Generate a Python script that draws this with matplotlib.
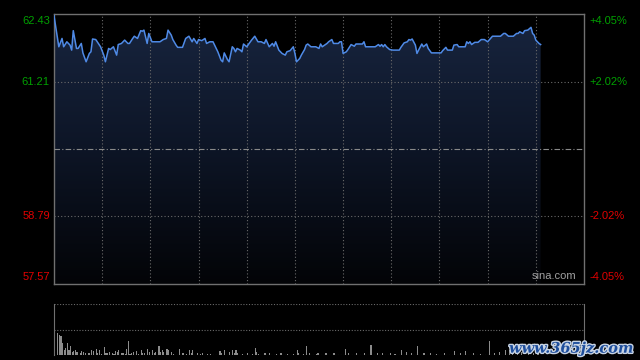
import numpy as np
import matplotlib.pyplot as plt
import matplotlib.patheffects as pe
from matplotlib.colors import LinearSegmentedColormap
from matplotlib.patches import Polygon

plt.rcParams['font.family'] = ['Liberation Sans', 'DejaVu Sans']

# intraday prices (minute of session, price)
price_minutes = [0, 3, 5, 6, 8, 10, 11, 12, 14, 15, 17, 18, 20, 22, 23, 24, 26, 29, 31, 32,
                 34, 35, 37, 39, 40, 42, 44, 46, 47, 49, 50, 52, 54, 55, 56, 58, 59, 61, 66, 68,
                 70, 71, 73, 74, 76, 77, 80, 82, 84, 86, 87, 89, 90, 92, 94, 95, 97, 99, 100, 102,
                 104, 105, 106, 108, 109, 111, 112, 113, 114, 116, 117, 118, 120, 121, 123, 125, 127, 129, 131, 132,
                 134, 136, 137, 138, 140, 142, 144, 145, 147, 149, 150, 151, 153, 154, 156, 157, 158, 160, 163, 165,
                 166, 167, 169, 170, 171, 173, 174, 177, 178, 179, 180, 182, 183, 185, 187, 188, 192, 193, 194, 197,
                 200, 202, 203, 204, 205, 206, 207, 209, 211, 215, 216, 218, 220, 221, 222, 223, 225, 226, 227, 229,
                 230, 232, 233, 235, 241, 242, 244, 245, 248, 249, 251, 252, 256, 257, 258, 259, 260, 262, 264, 266,
                 268, 270, 273, 278, 280, 281, 283, 286, 288, 289, 290, 292, 293, 295, 297, 298, 299, 300, 301, 302,
                 303]
price_values = [62.40, 61.84, 61.99, 61.84, 61.93, 61.87, 61.78, 62.13, 61.81, 61.81, 61.90, 61.73, 61.57, 61.72, 61.75, 61.98, 61.97, 61.84, 61.69, 61.57,
                61.81, 61.79, 61.84, 61.69, 61.88, 61.90, 61.96, 61.90, 61.90, 61.99, 62.03, 61.99, 62.13, 62.12, 62.14, 61.90, 62.08, 61.93, 61.93, 61.97,
                61.99, 62.14, 62.05, 61.97, 61.87, 61.83, 61.83, 61.99, 62.03, 61.93, 61.99, 61.90, 61.97, 61.95, 61.99, 61.90, 61.93, 61.93, 61.87, 61.75,
                61.60, 61.57, 61.73, 61.61, 61.57, 61.84, 61.81, 61.75, 61.81, 61.78, 61.75, 61.89, 61.84, 61.88, 61.96, 62.03, 61.93, 61.93, 61.90, 61.97,
                61.84, 61.90, 61.85, 61.93, 61.78, 61.72, 61.69, 61.75, 61.77, 61.84, 61.72, 61.57, 61.63, 61.69, 61.79, 61.87, 61.89, 61.84, 61.84, 61.81,
                61.89, 61.84, 61.88, 61.90, 61.93, 61.97, 61.90, 61.90, 61.93, 61.93, 61.72, 61.75, 61.79, 61.88, 61.85, 61.89, 61.89, 61.93, 61.84, 61.84,
                61.84, 61.88, 61.85, 61.88, 61.84, 61.88, 61.84, 61.79, 61.78, 61.78, 61.83, 61.91, 61.93, 61.97, 61.96, 61.98, 61.87, 61.72, 61.78, 61.89,
                61.84, 61.89, 61.81, 61.73, 61.73, 61.77, 61.83, 61.78, 61.78, 61.87, 61.88, 61.84, 61.84, 61.93, 61.90, 61.93, 61.88, 61.92, 61.92, 61.97,
                61.97, 61.93, 62.03, 62.03, 62.08, 62.08, 62.03, 62.03, 62.08, 62.08, 62.11, 62.08, 62.13, 62.14, 62.19, 62.08, 62.05, 61.96, 61.93, 61.90,
                61.88]

# volume bars (minute, relative volume)
vol_minutes = [0, 2, 3, 4, 5, 6, 7, 8, 9, 10, 11, 12, 13, 14, 16, 17, 18, 19, 21, 22,
               23, 24, 26, 27, 28, 29, 31, 32, 33, 34, 36, 37, 38, 39, 40, 42, 43, 44, 45, 46,
               47, 48, 49, 51, 52, 54, 55, 56, 58, 59, 61, 62, 63, 65, 66, 67, 68, 70, 71, 73,
               74, 78, 80, 82, 84, 85, 86, 89, 91, 92, 95, 97, 103, 104, 106, 109, 111, 112, 113, 114,
               117, 120, 123, 125, 126, 127, 131, 134, 138, 141, 145, 149, 151, 152, 155, 157, 159, 163, 164, 169,
               174, 181, 183, 188, 193, 197, 201, 204, 209, 212, 216, 219, 222, 226, 230, 234, 238, 243, 249, 253,
               256, 261, 265, 271, 274, 277, 281, 283, 285, 288, 291, 295, 298, 301]
vol_values = [100, 43, 39, 38, 24, 10, 13, 24, 9, 17, 5, 7, 9, 5, 3, 7, 5, 4, 3, 3,
              9, 7, 12, 3, 10, 2, 15, 3, 4, 5, 4, 2, 7, 5, 9, 3, 3, 2, 12, 27,
              2, 4, 5, 7, 2, 9, 3, 3, 12, 5, 9, 3, 5, 17, 5, 9, 5, 12, 9, 5,
              2, 12, 3, 2, 10, 3, 9, 3, 2, 3, 2, 2, 7, 3, 10, 5, 9, 3, 9, 3,
              2, 3, 2, 13, 5, 2, 3, 3, 2, 3, 2, 2, 10, 3, 2, 17, 3, 2, 3, 3,
              4, 12, 4, 3, 3, 19, 4, 3, 3, 2, 10, 5, 3, 17, 3, 3, 2, 3, 7, 4,
              7, 3, 2, 27, 3, 5, 9, 9, 4, 3, 5, 7, 4, 3]

prev_close = 60.00
left_ticks = [62.43, 61.21, 58.79, 57.57]
pct_labels = ['+4.05%', '+2.02%', '-2.02%', '-4.05%']
tick_colors = ['#00a000', '#00a000', '#e00000', '#e00000']
session_len = 330
grid_minutes = [30, 60, 90, 120, 150, 180, 210, 240, 270, 300]

fig = plt.figure(figsize=(6.4, 3.6), dpi=100, facecolor='black')
ax = fig.add_axes([54 / 640, 1 - 284 / 360, 530 / 640, 270 / 360])
axv = fig.add_axes([54 / 640, 1 - 355 / 360, 530 / 640, 51 / 360])

ymin, ymax = left_ticks[-1], left_ticks[0]
for a in (ax, axv):
    a.set_facecolor('black')
    a.set_xlim(0, session_len)
    a.set_xticks([])
    a.set_yticks([])

ax.set_ylim(ymin, ymax)
for s in ax.spines.values():
    s.set_color('#707070')
    s.set_linewidth(1)

# grid
for m in grid_minutes:
    ax.axvline(m, color='#6a6a6a', lw=0.8, ls=(0, (1, 2)), zorder=3)
for p in (left_ticks[1], left_ticks[2]):
    ax.axhline(p, color='#6a6a6a', lw=0.8, ls=(0, (1, 2)), zorder=3)
ax.axhline(prev_close, color='#8a8a8a', lw=0.8, ls=(0, (5, 2, 1, 2)), zorder=3)

# gradient area under the price line
cmap = LinearSegmentedColormap.from_list('fill', ['#030407', '#0d1526', '#18253f'])
grad = np.linspace(0, 1, 256).reshape(-1, 1)
im = ax.imshow(grad, aspect='auto', cmap=cmap, origin='lower',
               extent=[0, session_len, ymin, ymax], zorder=1)
verts = [(price_minutes[0], ymin)] + list(zip(price_minutes, price_values)) + [(price_minutes[-1], ymin)]
poly = Polygon(verts, closed=True, facecolor='none', edgecolor='none')
ax.add_patch(poly)
im.set_clip_path(poly)
ax.plot(price_minutes, price_values, color='#4f8ae6', lw=1.1, zorder=4)

# axis labels
for i, (p, lab, c) in enumerate(zip(left_ticks, pct_labels, tick_colors)):
    va = 'top' if i == 0 else ('bottom' if i == 3 else 'center')
    off = -1.5 if i == 0 else (1.5 if i == 3 else 0)
    ax.annotate(f'{p:.2f}', (0, p), xycoords=('axes fraction', 'data'),
                xytext=(-3, off), textcoords='offset points', ha='right', va=va,
                color=c, fontsize=8)
    ax.annotate(lab, (1, p), xycoords=('axes fraction', 'data'),
                xytext=(4, off), textcoords='offset points', ha='left', va=va,
                color=c, fontsize=8)

ax.text(0.985, 0.012, 'sina.com', transform=ax.transAxes, ha='right', va='bottom',
        color='#a0a0a0', fontsize=8, zorder=5)

# volume panel
axv.set_ylim(0, 100)
for k in ('top', 'bottom'):
    axv.spines[k].set_visible(False)
for k in ('left', 'right'):
    axv.spines[k].set_color('#707070')
for lvl in (100, 50, 0.5):
    axv.axhline(lvl, color='#6a6a6a', lw=0.8, ls=(0, (1, 1.5)), zorder=1)
axv.bar(vol_minutes, vol_values, width=0.7, color='#8c8c8c', align='edge', zorder=2)

fig.text(0.99, 0.012, 'www.365jz.com', ha='right', va='bottom', color='#1e4e9c',
         fontsize=10.5, fontweight='bold', style='italic', family='DejaVu Serif',
         path_effects=[pe.withStroke(linewidth=2, foreground='#c8d4e4')])

fig.savefig('out.png', dpi=100, facecolor='black')
